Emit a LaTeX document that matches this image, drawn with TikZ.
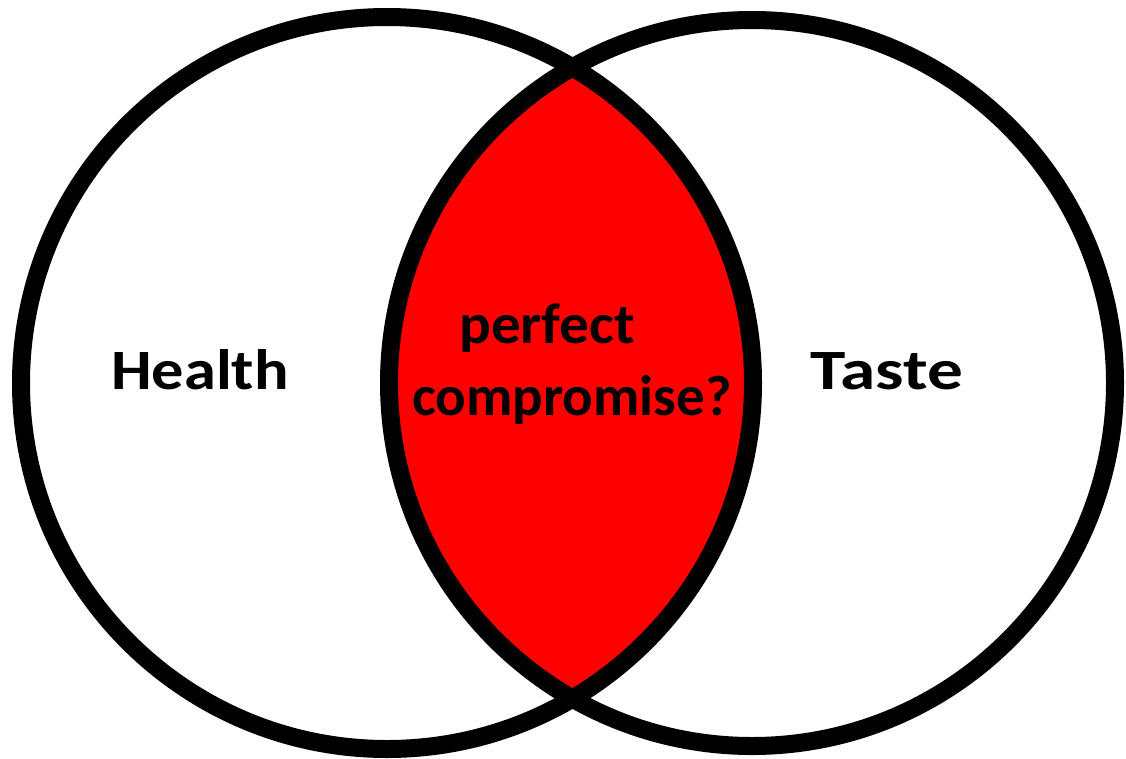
\documentclass[tikz,border=0pt]{standalone}
\usepackage{fontspec}
\setmainfont{Carlito}
\definecolor{lensred}{RGB}{255,0,0}
\begin{document}
\begin{tikzpicture}[x=1pt,y=-1pt,
  ring/.style={draw=black,line width=18pt},
  label/.style={font=\bfseries\fontsize{57}{64}\selectfont,inner sep=0pt,anchor=base}]
\useasboundingbox (0,0) rectangle (1126,758);
\fill[white] (0,0) rectangle (1126,758);
% overlap of the two sets
\begin{scope}
  \clip (387,383) circle (366);
  \fill[lensred] (752,383) circle (363);
\end{scope}
\node[ring,circle,minimum size=732pt,inner sep=0pt] (health) at (387,383) {};
\node[ring,circle,minimum size=726pt,inner sep=0pt] (taste) at (752,383) {};
\node[label] (hlabel) at (200,389) {\scalebox{1.13}[1]{Health}};
\node[label] (tlabel) at (887,389) {\scalebox{1.25}[1]{Taste}};
\node[label] (plabel) at (547,343) {\scalebox{1.04}[1]{perfect}};
\node[label] (clabel) at (572,415) {compromise?};
\end{tikzpicture}
\end{document}
